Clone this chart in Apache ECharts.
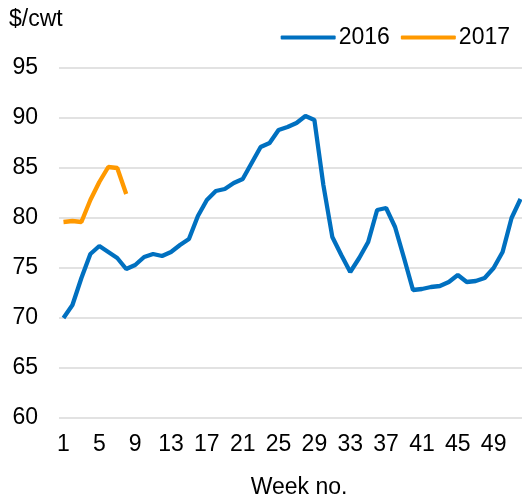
<!DOCTYPE html>
<html>
<head>
<meta charset="utf-8">
<script src="https://cdn.jsdelivr.net/npm/echarts@6/dist/echarts.min.js"></script>
<style>
  html, body { margin: 0; padding: 0; background: #fff; }
  #chart { width: 522px; height: 499px; }
</style>
</head>
<body>
<div id="chart"></div>
<script>
// semanas 1..52
const weeks = [];
for (let i = 1; i <= 52; i++) weeks.push(String(i));

const precios2016 = [
  70.0, 71.3, 74.0, 76.4, 77.2, 76.6, 76.0, 74.9, 75.3, 76.1,
  76.4, 76.2, 76.6, 77.3, 77.9, 80.2, 81.8, 82.7, 82.9, 83.5,
  83.9, 85.5, 87.1, 87.5, 88.8, 89.1, 89.5, 90.2, 89.8, 83.3,
  78.1, 76.3, 74.6, 76.0, 77.6, 80.8, 81.0, 79.1, 76.0, 72.8,
  72.9, 73.1, 73.2, 73.6, 74.3, 73.6, 73.7, 74.0, 75.0, 76.6,
  80.0, 81.9
];

const precios2017 = [79.6, 79.7, 79.6, 81.8, 83.6, 85.1, 85.0, 82.4];

const yMin = 60;
const yMax = 95;
const yStep = 5;

const fuente = "'Liberation Sans', Arial, sans-serif";

var dom = document.getElementById("chart");
var myChart = echarts.init(dom, null, { renderer: "canvas" });

var option = {
  animation: false,
  title: {
    text: "$/cwt",
    left: 4,
    top: 3,
    textStyle: { fontFamily: fuente, fontSize: 23, fontWeight: "normal", color: "#000" },
  },
  legend: {
    right: 7,
    top: 21,
    icon: "roundRect",
    itemWidth: 55,
    itemHeight: 4,
    itemGap: 11,
    textStyle: { fontFamily: fuente, fontSize: 23, color: "#000", padding: [0, 0, 0, -2] },
    data: ["2016", "2017"],
  },
  grid: { left: 59, right: -3, top: 68, bottom: 81, containLabel: false, outerBoundsMode: "none" },
  xAxis: {
    type: "category",
    data: weeks,
    boundaryGap: true,
    name: "Week no.",
    nameLocation: "middle",
    nameGap: 58,
    nameTextStyle: { fontFamily: fuente, fontSize: 23, color: "#000", padding: [0, 0, 0, 14] },
    axisLine: { show: false },
    axisTick: { show: false },
    axisLabel: {
      interval: 3,
      margin: 15,
      fontFamily: fuente,
      fontSize: 23,
      color: "#000",
    },
  },
  yAxis: {
    type: "value",
    min: yMin,
    max: yMax,
    interval: yStep,
    axisLine: { show: false },
    axisTick: { show: false },
    axisLabel: { margin: 21, fontFamily: fuente, fontSize: 23, color: "#000" },
    splitLine: { lineStyle: { color: "#d9d9d9", width: 1.5 } },
  },
  series: [
    {
      name: "2016",
      type: "line",
      data: precios2016,
      symbol: "none",
      color: "#0070c0",
      lineStyle: { width: 4.3, color: "#0070c0" },
    },
    {
      name: "2017",
      type: "line",
      data: precios2017,
      symbol: "none",
      color: "#ff9900",
      lineStyle: { width: 4.3, color: "#ff9900" },
    },
  ],
};

myChart.setOption(option, true);
window.addEventListener("resize", myChart.resize);
</script>
</body>
</html>
